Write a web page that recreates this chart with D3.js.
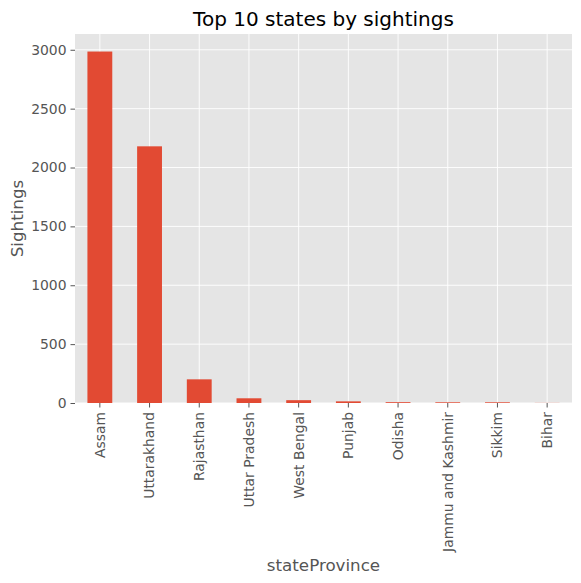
<!DOCTYPE html>
<html>
<head>
<meta charset="utf-8">
<script src="https://cdn.jsdelivr.net/npm/d3@7"></script>
<style>
  body { margin: 0; background: #fff; }
  text { font-family: "DejaVu Sans", sans-serif; }
</style>
</head>
<body>
<div id="chart"></div>
<script>
// Data
const states = ["Assam", "Uttarakhand", "Rajasthan", "Uttar Pradesh", "West Bengal",
  "Punjab", "Odisha", "Jammu and Kashmir", "Sikkim", "Bihar"];
const sightings = [2985, 2180, 201, 40, 24, 14, 7, 6, 6, 1];
const yTicks = [0, 500, 1000, 1500, 2000, 2500, 3000];

const W = 581, H = 583;
const margin = { top: 34, right: 9, bottom: 180, left: 75 };
const width = W - margin.left - margin.right;
const height = H - margin.top - margin.bottom;

const svg = d3.select("#chart").append("svg")
  .attr("width", W).attr("height", H);

const g = svg.append("g")
  .attr("transform", `translate(${margin.left},${margin.top})`);

const x = d3.scaleBand().domain(states).range([0, width])
  .paddingInner(0.5).paddingOuter(0.25);
const y = d3.scaleLinear().domain([0, 3134]).range([height, 0]);

// Background and grid
g.append("rect").attr("width", width).attr("height", height).attr("fill", "#e5e5e5");

g.selectAll(".hgrid").data(yTicks).enter().append("line")
  .attr("x1", 0).attr("x2", width)
  .attr("y1", d => y(d)).attr("y2", d => y(d))
  .attr("stroke", "#fff").attr("stroke-width", 0.9);

g.selectAll(".vgrid").data(states).enter().append("line")
  .attr("x1", d => x(d) + x.bandwidth() / 2).attr("x2", d => x(d) + x.bandwidth() / 2)
  .attr("y1", 0).attr("y2", height)
  .attr("stroke", "#fff").attr("stroke-width", 0.9);

// Bars
g.selectAll(".bar").data(states).enter().append("rect")
  .attr("x", d => x(d))
  .attr("width", x.bandwidth())
  .attr("y", (d, i) => y(sightings[i]))
  .attr("height", (d, i) => height - y(sightings[i]))
  .attr("fill", "#e24a33");

// Axes
const yAxis = g.append("g")
  .call(d3.axisLeft(y).tickValues(yTicks).tickFormat(d3.format("d")).tickSize(4.5).tickPadding(4));
const xAxis = g.append("g")
  .attr("transform", `translate(0,${height})`)
  .call(d3.axisBottom(x).tickSize(4.5).tickPadding(5));

[xAxis, yAxis].forEach(a => {
  a.select(".domain").remove();
  a.selectAll(".tick line").attr("stroke", "#555");
  a.selectAll(".tick text").attr("fill", "#555").attr("font-size", 13.9);
});

xAxis.selectAll(".tick text")
  .attr("transform", "rotate(-90)")
  .attr("text-anchor", "end")
  .attr("x", -9).attr("y", 0).attr("dy", "0.35em");

// Labels
svg.append("text")
  .attr("x", margin.left + width / 2).attr("y", 26)
  .attr("text-anchor", "middle").attr("font-size", 20).attr("fill", "#000")
  .text("Top 10 states by sightings");

svg.append("text")
  .attr("x", margin.left + width / 2).attr("y", 571)
  .attr("text-anchor", "middle").attr("font-size", 16.7).attr("fill", "#555")
  .text("stateProvince");

svg.append("text")
  .attr("transform", "rotate(-90)")
  .attr("x", -(margin.top + height / 2)).attr("y", 23)
  .attr("text-anchor", "middle").attr("font-size", 16.7).attr("fill", "#555")
  .text("Sightings");
</script>
</body>
</html>
